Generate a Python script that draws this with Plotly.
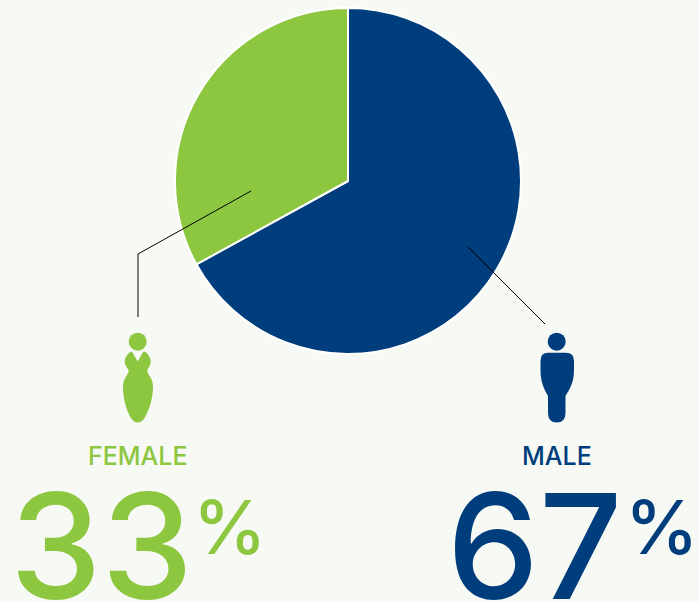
import plotly.graph_objects as go

W, H = 699, 602
categories = ["MALE", "FEMALE"]
values = [67, 33]
percent_labels = ["67", "33"]
GREEN, NAVY, BG = "#8DC63F", "#003D7C", "#F7FAF4"
FONT = "Inter"


def px(x):
    return x / W


def py(y):
    return 1 - y / H


def path(cmds):
    out = []
    for c in cmds:
        nums = c[1:]
        pts = []
        for i in range(0, len(nums), 2):
            pts.append(f"{px(nums[i]):.5f},{py(nums[i+1]):.5f}")
        out.append(c[0] + " " + " ".join(pts))
    return " ".join(out) + " Z"


def circle(cx, cy, r, color):
    return dict(type="circle", xref="paper", yref="paper", x0=px(cx - r), x1=px(cx + r),
                y0=py(cy + r), y1=py(cy - r), fillcolor=color, line_width=0, layer="above")


female_body = [
    ("M", 130.5, 352), ("Q", 131.5, 351, 132.5, 352.5), ("L", 137.7, 361.5), ("L", 142.8, 352.5),
    ("Q", 144, 351, 145.2, 352), ("C", 148, 354, 151, 358, 150.7, 362),
    ("C", 150.5, 367, 146.5, 369, 147.5, 372), ("C", 149, 376, 153, 379, 153, 387),
    ("C", 153, 398, 149, 411, 144.5, 418), ("Q", 141.5, 422.5, 137.7, 422.5),
    ("Q", 134, 422.5, 131, 418), ("C", 126.5, 411, 123, 398, 123, 387),
    ("C", 123, 379, 127, 376, 128.5, 372), ("C", 129.5, 369, 125, 367, 124.8, 362),
    ("C", 124.5, 358, 127.5, 354, 130.5, 352),
]
male_body = [
    ("M", 548, 352.8), ("L", 566, 352.8), ("Q", 574, 352.8, 574, 361), ("L", 574, 370),
    ("C", 574, 382, 570, 389, 565.5, 396), ("L", 565.5, 413), ("Q", 565.5, 422.5, 556.7, 422.5),
    ("Q", 548, 422.5, 548, 413), ("L", 548, 396), ("C", 544, 389, 540.5, 382, 540.5, 370),
    ("L", 540.5, 361), ("Q", 540.5, 352.8, 548, 352.8),
]


def line_path(points):
    return "M " + " L ".join(f"{px(x):.5f},{py(y):.5f}" for x, y in points)


shapes = [
    dict(type="path", xref="paper", yref="paper", path=line_path([(251, 191), (138, 254), (138, 317)]),
         line=dict(color="#000000", width=1), layer="above"),
    dict(type="path", xref="paper", yref="paper", path=line_path([(468, 247), (545, 324)]),
         line=dict(color="#000000", width=1), layer="above"),
    circle(137.7, 341.7, 9, GREEN),
    circle(556.7, 341.7, 9, NAVY),
    dict(type="path", xref="paper", yref="paper", path=path(female_body), fillcolor=GREEN, line_width=0, layer="above"),
    dict(type="path", xref="paper", yref="paper", path=path(male_body), fillcolor=NAVY, line_width=0, layer="above"),
]


def text(t, x, y, size, color, weight=500):
    return dict(text=t, xref="paper", yref="paper", x=px(x), y=py(y), xanchor="center", yanchor="middle",
                showarrow=False, font=dict(family=FONT, size=size, color=color, weight=weight))


annotations = [
    text(categories[1], 138, 455.5, 25, GREEN),
    text(categories[0], 557, 455.5, 25, NAVY),
    text(percent_labels[1], 101, 546, 146, GREEN),
    text(percent_labels[0], 534.5, 546, 146, NAVY),
    text("%", 230, 527, 74, GREEN),
    text("%", 662, 527, 74, NAVY),
]

fig = go.Figure(go.Pie(
    labels=categories, values=values, sort=False, direction="clockwise", rotation=0,
    marker=dict(colors=[NAVY, GREEN], line=dict(color="#FFFFFF", width=2)),
    textinfo="none", hoverinfo="label+percent",
    domain=dict(x=[px(175), px(521)], y=[py(354), py(8)]),
))
fig.update_layout(
    width=W, height=H, margin=dict(l=0, r=0, t=0, b=0), showlegend=False,
    paper_bgcolor=BG, plot_bgcolor=BG, shapes=shapes, annotations=annotations,
)
fig.write_html("out.html", config=dict(displayModeBar=False),
               post_script="document.body.style.margin='0';document.body.style.background='%s';document.body.style.overflow='hidden';" % BG)
